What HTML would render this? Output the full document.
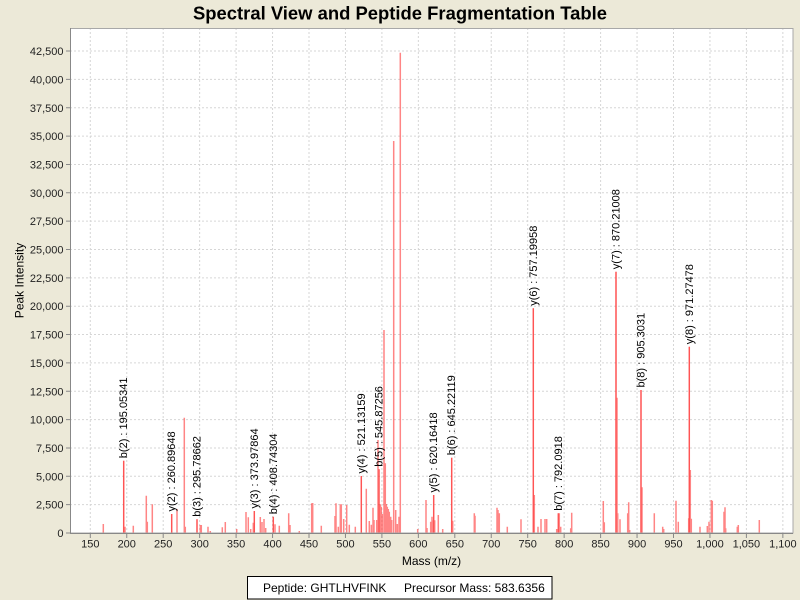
<!DOCTYPE html>
<html>
<head>
<meta charset="utf-8">
<style>
html,body{margin:0;padding:0;background:#ECE9D8;}
svg{display:block;}
text{font-family:"Liberation Sans",Arial,sans-serif;}
</style>
</head>
<body>
<svg width="800" height="600" viewBox="0 0 800 600" xmlns="http://www.w3.org/2000/svg">
<rect x="0" y="0" width="800" height="600" fill="#ECE9D8"/>
<text x="400" y="19.5" text-anchor="middle" font-size="18" font-weight="bold" fill="#000" textLength="414" lengthAdjust="spacingAndGlyphs">Spectral View and Peptide Fragmentation Table</text>

<!-- plot area -->
<rect x="70" y="28" width="723" height="505" fill="#ffffff"/>

<!-- grid -->
<g stroke="#d6d6d6" stroke-width="1" stroke-dasharray="2,2" fill="none">
<path d="M90.3 28V533M126.75 28V533M163.2 28V533M199.65 28V533M236.1 28V533M272.55 28V533M309 28V533M345.45 28V533M381.9 28V533M418.35 28V533M454.8 28V533M491.25 28V533M527.7 28V533M564.15 28V533M600.6 28V533M637.05 28V533M673.5 28V533M709.95 28V533M746.4 28V533M782.85 28V533"/>
<path d="M70 504.65H793M70 476.3H793M70 447.95H793M70 419.6H793M70 391.25H793M70 362.9H793M70 334.55H793M70 306.2H793M70 277.85H793M70 249.5H793M70 221.15H793M70 192.8H793M70 164.45H793M70 136.1H793M70 107.75H793M70 79.4H793M70 51.05H793"/>
</g>

<!-- peaks -->
<g stroke="#ff3333" stroke-opacity="0.6" stroke-width="1.5" fill="none">
<path d="M103.3 533V524M123.7 533V460.7M125 533V526.7M133.3 533V525.7M146.3 533V495.7M147.3 533V521.7M152.3 533V504.3M171.7 533V514M177 533V509M184.3 533V417.7M185.3 533V526.7M197 533V519.3M200.3 533V525M201.3 533V525M208 533V526.7M210.3 533V531M222.3 533V527.3M225.3 533V522M236.7 533V529M246 533V512M248.3 533V517.3M250.7 533V529M253.3 533V522.7M254.3 533V511M260.3 533V517M262 533V522M264 533V519M265.7 533V528M273.3 533V516.7M275 533V524.3M279.3 533V525.7M288.7 533V513.3M290 533V525M299.3 533V531"/>
<path d="M311.7 533V503.3M312.7 533V503M321.3 533V525.7M335 533V516M336 533V503.3M338.3 533V526.7M340.3 533V504.3M341.3 533V504.3M343.7 533V519M346.7 533V505M349.3 533V524.7M355.3 533V526.7M361.3 533V476M366.3 533V488.7M369.3 533V521M371.3 533V524.7M373 533V507.7M374 533V520M376.7 533V520M378 533V440M379 533V469.3M380.3 533V504.3M381.3 533V506.7M382.3 533V514M384 533V330M385.3 533V463.3M386.3 533V504M387.3 533V506.7M388.3 533V509M389.3 533V511.7M390.7 533V516.7M391.7 533V520M393.7 533V141M395.7 533V510M397.3 533V524M399 533V516.7M400.3 533V52.7"/>
<path d="M417.7 533V529M426 533V500M427 533V528M430.7 533V521.7M432 533V516.7M433 533V520.3M433.7 533V495M434.7 533V520.3M438.3 533V515M442.7 533V529M451.7 533V457.7M452.7 533V520.7M474.3 533V513.3M475 533V515.7M497 533V507.7M498 533V510M499.3 533V513.3M507.3 533V526.7M521 533V519.3M533.3 533V308.3M534.3 533V495M538 533V526.7M541 533V519M545 533V519M546.7 533V519"/>
<path d="M556.7 533V529M558.3 533V513.3M559.3 533V513.3M560.7 533V526.7M570.7 533V528.3M571.7 533V512.7M603.3 533V501M604.3 533V522.3M616 533V271.7M617 533V397.7M617.7 533V513.3M620 533V519.3M627.7 533V513.3M628.7 533V502.3M629.7 533V530M641 533V390M642 533V487.3M654.3 533V513.3M662.7 533V526.7M663.7 533V529M676 533V500.7M678.3 533V521.7M688.7 533V518.3M689.3 533V346.7M690.3 533V470M691.3 533V518.7M700 533V526.7M707.3 533V526M709 533V521.7M711.3 533V500M712.3 533V500.7M724 533V511.7M725 533V507.3M725.7 533V528.3M737.3 533V526.7M738.3 533V525M759.3 533V520"/>
</g>
<!-- annotated peaks (drawn again, darker) -->
<g stroke="#ff2222" stroke-opacity="0.55" stroke-width="1.2" fill="none">
<path d="M123.7 533V460.7M171.7 533V514M197 533V519.3M254.3 533V511M273.3 533V516.7M361.3 533V476M379 533V469.3M433.7 533V495M451.7 533V457.7M533.3 533V308.3M558.3 533V513.3M616 533V271.7M641 533V390M689.3 533V346.7"/>
</g>

<!-- peak labels -->
<g font-size="11" fill="#000">
<text transform="translate(127.2,458.2) rotate(-90)">b(2) : 195.05341</text>
<text transform="translate(175.2,511.5) rotate(-90)">y(2) : 260.89648</text>
<text transform="translate(200.5,516.8) rotate(-90)">b(3) : 295.78662</text>
<text transform="translate(257.8,508.5) rotate(-90)">y(3) : 373.97864</text>
<text transform="translate(276.8,514.2) rotate(-90)">b(4) : 408.74304</text>
<text transform="translate(364.8,473.5) rotate(-90)">y(4) : 521.13159</text>
<text transform="translate(382.5,466.8) rotate(-90)">b(5) : 545.87256</text>
<text transform="translate(437.2,492.5) rotate(-90)">y(5) : 620.16418</text>
<text transform="translate(455.2,455.2) rotate(-90)">b(6) : 645.22119</text>
<text transform="translate(536.8,305.8) rotate(-90)">y(6) : 757.19958</text>
<text transform="translate(561.8,510.8) rotate(-90)">b(7) : 792.0918</text>
<text transform="translate(619.5,269.2) rotate(-90)">y(7) : 870.21008</text>
<text transform="translate(644.5,387.5) rotate(-90)">b(8) : 905.3031</text>
<text transform="translate(692.8,344.2) rotate(-90)">y(8) : 971.27478</text>
</g>

<!-- border & axes -->
<rect x="70.5" y="28.5" width="722.5" height="504.5" fill="none" stroke="#a8a8a8" stroke-width="1"/>
<path d="M70.5 28V533.5H793" fill="none" stroke="#888" stroke-width="1"/>

<!-- y ticks -->
<g stroke="#888" stroke-width="1">
<path d="M66 533H70M66 504.65H70M66 476.3H70M66 447.95H70M66 419.6H70M66 391.25H70M66 362.9H70M66 334.55H70M66 306.2H70M66 277.85H70M66 249.5H70M66 221.15H70M66 192.8H70M66 164.45H70M66 136.1H70M66 107.75H70M66 79.4H70M66 51.05H70"/>
<path d="M90.3 534V538M126.75 534V538M163.2 534V538M199.65 534V538M236.1 534V538M272.55 534V538M309 534V538M345.45 534V538M381.9 534V538M418.35 534V538M454.8 534V538M491.25 534V538M527.7 534V538M564.15 534V538M600.6 534V538M637.05 534V538M673.5 534V538M709.95 534V538M746.4 534V538M782.85 534V538"/>
</g>

<g font-size="11" fill="#222" text-anchor="end">
<text x="63.5" y="537">0</text>
<text x="63.5" y="508.65">2,500</text>
<text x="63.5" y="480.3">5,000</text>
<text x="63.5" y="451.95">7,500</text>
<text x="63.5" y="423.6">10,000</text>
<text x="63.5" y="395.25">12,500</text>
<text x="63.5" y="366.9">15,000</text>
<text x="63.5" y="338.55">17,500</text>
<text x="63.5" y="310.2">20,000</text>
<text x="63.5" y="281.85">22,500</text>
<text x="63.5" y="253.5">25,000</text>
<text x="63.5" y="225.15">27,500</text>
<text x="63.5" y="196.8">30,000</text>
<text x="63.5" y="168.45">32,500</text>
<text x="63.5" y="140.1">35,000</text>
<text x="63.5" y="111.75">37,500</text>
<text x="63.5" y="83.4">40,000</text>
<text x="63.5" y="55.05">42,500</text>
</g>

<g font-size="11" fill="#222" text-anchor="middle">
<text x="90.3" y="547.5">150</text>
<text x="126.75" y="547.5">200</text>
<text x="163.2" y="547.5">250</text>
<text x="199.65" y="547.5">300</text>
<text x="236.1" y="547.5">350</text>
<text x="272.55" y="547.5">400</text>
<text x="309" y="547.5">450</text>
<text x="345.45" y="547.5">500</text>
<text x="381.9" y="547.5">550</text>
<text x="418.35" y="547.5">600</text>
<text x="454.8" y="547.5">650</text>
<text x="491.25" y="547.5">700</text>
<text x="527.7" y="547.5">750</text>
<text x="564.15" y="547.5">800</text>
<text x="600.6" y="547.5">850</text>
<text x="637.05" y="547.5">900</text>
<text x="673.5" y="547.5">950</text>
<text x="709.95" y="547.5">1,000</text>
<text x="746.4" y="547.5">1,050</text>
<text x="782.85" y="547.5">1,100</text>
</g>

<text x="431.5" y="565" font-size="12" fill="#000" text-anchor="middle">Mass (m/z)</text>
<text transform="translate(23.5,280.5) rotate(-90)" font-size="12" fill="#000" text-anchor="middle">Peak Intensity</text>

<!-- legend -->
<rect x="247.5" y="576.5" width="304.5" height="22.5" fill="#ffffff" stroke="#000" stroke-width="1"/>
<text x="263" y="592" font-size="12" fill="#000">Peptide: GHTLHVFINK</text>
<text x="404" y="592" font-size="12" fill="#000">Precursor Mass: 583.6356</text>
</svg>
</body>
</html>
